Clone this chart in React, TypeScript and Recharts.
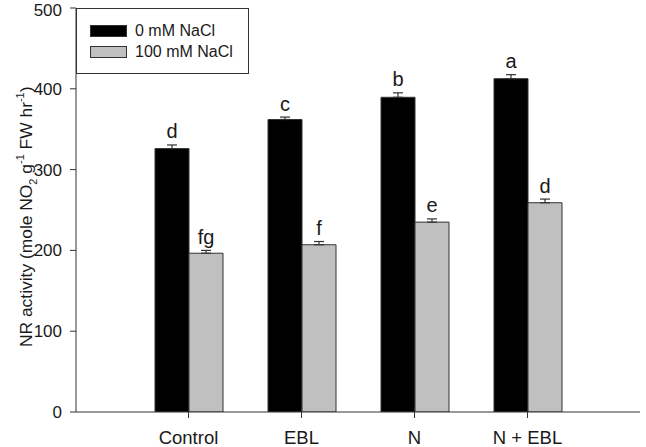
import React from 'react';
import { BarChart, Bar, XAxis, YAxis, ErrorBar, LabelList, Legend } from 'recharts';

const categories = ['Control', 'EBL', 'N', 'N + EBL'];
const salt0 = [326, 362, 389.5, 412.5];
const salt0Err = [4.5, 3, 5.5, 5];
const salt100 = [196.5, 207, 235, 259];
const salt100Err = [3.5, 4, 4, 4.5];
const letters0 = ['d', 'c', 'b', 'a'];
const letters100 = ['fg', 'f', 'e', 'd'];
const yTicks = [0, 100, 200, 300, 400, 500];
const seriesNames = ['0 mM NaCl', '100 mM NaCl'];

const data = categories.map((c, i) => ({
  name: c,
  s0: salt0[i],
  s100: salt100[i],
  e0: [0, salt0Err[i]],
  e100: [0, salt100Err[i]],
}));

const FONT = '"Liberation Sans", Arial, Helvetica, sans-serif';
const TEXT = '#1a1a1a';
const AXIS = '#333333';
const GRAY = '#c0c0c0';

const makeLetter = (letters: string[], errs: number[]) => (props: any) => {
  const { x, y, width, height, value, index } = props;
  const pxPerUnit = value ? height / value : 0;
  const capY = y - errs[index] * pxPerUnit;
  return (
    <text
      x={x + width / 2}
      y={capY - 6.5}
      textAnchor="middle"
      fontSize={20}
      fontFamily={FONT}
      fill={TEXT}
    >
      {letters[index]}
    </text>
  );
};

const YLabel = () => {
  const cx = 32;
  const cy = 347;
  return (
    <text
      x={cx}
      y={cy}
      transform={`rotate(-90, ${cx}, ${cy})`}
      textAnchor="start"
      fontSize={17.4}
      fontFamily={FONT}
      fill={TEXT}
    >
      <tspan>NR activity (mole NO</tspan>
      <tspan fontSize={11} dy={5}>2</tspan>
      <tspan dy={-5}> g</tspan>
      <tspan fontSize={11} dy={-8}>-1</tspan>
      <tspan dy={8}> FW hr</tspan>
      <tspan fontSize={11} dy={-8}>-1</tspan>
      <tspan dy={8}>)</tspan>
    </text>
  );
};

const LegendBox = () => {
  const colors = ['#000000', GRAY];
  return (
    <div
      style={{
        width: 173,
        height: 66,
        boxSizing: 'border-box',
        border: `1px solid ${AXIS}`,
        background: '#fff',
        position: 'relative',
        fontFamily: FONT,
        fontSize: 16,
        color: TEXT,
      }}
    >
      {seriesNames.map((n, i) => (
        <div
          key={n}
          style={{
            position: 'absolute',
            left: 13,
            top: 16 + i * 21,
            height: 12,
            display: 'flex',
            alignItems: 'center',
            whiteSpace: 'nowrap',
          }}
        >
          <span
            style={{
              display: 'inline-block',
              width: 37,
              height: 12,
              boxSizing: 'border-box',
              background: colors[i],
              border: `1px solid ${AXIS}`,
              marginRight: 8,
            }}
          />
          <span style={{ lineHeight: '12px' }}>{n}</span>
        </div>
      ))}
    </div>
  );
};

export default function App() {
  return (
    <div style={{ position: 'absolute', left: 0, top: 0, width: 646, height: 447, background: '#fff' }}>
      <BarChart
        width={646}
        height={447}
        data={data}
        margin={{ top: 8, right: 6, bottom: 5, left: 0 }}
        barGap={0}
        barSize={34}
      >
        <XAxis
          dataKey="name"
          padding={{ left: 56, right: 56 }}
          tickSize={6}
          tickMargin={13}
          height={30}
          stroke={AXIS}
          tick={{ fontSize: 18.5, fontFamily: FONT, fill: TEXT }}
          tickLine={{ stroke: AXIS }}
          axisLine={{ stroke: AXIS }}
          interval={0}
        />
        <XAxis
          xAxisId="top"
          dataKey="name"
          orientation="top"
          height={0}
          tick={false}
          tickLine={false}
          axisLine={{ stroke: AXIS }}
        />
        <YAxis
          domain={[0, 500]}
          ticks={yTicks}
          width={76}
          tickSize={6}
          tickMargin={8}
          stroke={AXIS}
          tick={{ fontSize: 17, fontFamily: FONT, fill: TEXT }}
          tickLine={{ stroke: AXIS }}
          axisLine={{ stroke: AXIS }}
          allowDataOverflow
          label={<YLabel />}
        />
        <YAxis
          yAxisId="right"
          orientation="right"
          domain={[0, 500]}
          width={0}
          tick={false}
          tickLine={false}
          axisLine={{ stroke: AXIS }}
        />
        <Legend
          layout="horizontal"
          verticalAlign="middle"
          align="center"
          wrapperStyle={{ left: 76, top: 8, width: 173, height: 66 }}
          content={() => <LegendBox />}
        />
        <Bar dataKey="s0" name={seriesNames[0]} fill="#000000" stroke={AXIS} strokeWidth={1} isAnimationActive={false}>
          <ErrorBar dataKey="e0" direction="y" width={5} stroke={AXIS} strokeWidth={1.2} isAnimationActive={false} />
          <LabelList dataKey="s0" content={makeLetter(letters0, salt0Err)} />
        </Bar>
        <Bar dataKey="s100" name={seriesNames[1]} fill={GRAY} stroke={AXIS} strokeWidth={1} isAnimationActive={false}>
          <ErrorBar dataKey="e100" direction="y" width={5} stroke={AXIS} strokeWidth={1.2} isAnimationActive={false} />
          <LabelList dataKey="s100" content={makeLetter(letters100, salt100Err)} />
        </Bar>
      </BarChart>
    </div>
  );
}
